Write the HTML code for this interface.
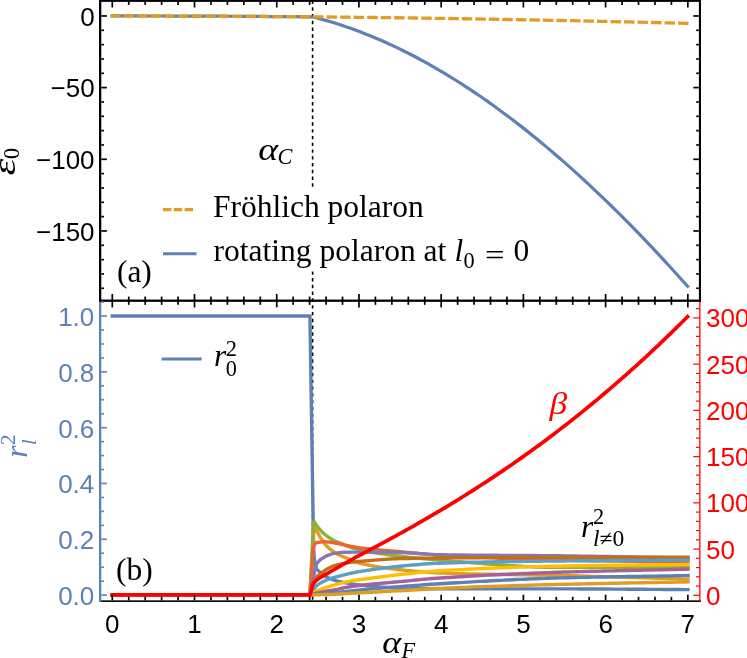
<!DOCTYPE html>
<html><head><meta charset="utf-8"><title>plot</title><style>html,body{margin:0;padding:0;background:#fff}svg{display:block;will-change:transform}</style></head><body>
<svg width="747" height="658" viewBox="0 0 747 658">
<rect width="747" height="658" fill="#fff"/>
<line x1="312.6" y1="0.5" x2="312.6" y2="299.6" stroke="#000" stroke-width="1.6" stroke-dasharray="3.4 3.37"/>
<line x1="312.6" y1="298.43" x2="312.6" y2="600.3" stroke="#000" stroke-width="1.6" stroke-dasharray="3.4 3.37"/>
<rect x="155" y="188" width="385" height="83.5" fill="#fff"/>
<path d="M112.30,15.96 L120.65,15.96 L128.99,15.97 L137.34,15.97 L145.68,15.99 L154.03,16.00 L162.38,16.02 L170.72,16.04 L179.07,16.06 L187.41,16.09 L195.76,16.12 L204.10,16.15 L212.45,16.19 L220.80,16.22 L229.14,16.27 L237.49,16.31 L245.83,16.36 L254.18,16.41 L262.53,16.47 L270.87,16.53 L279.22,16.59 L287.56,16.65 L295.91,16.72 L304.25,16.79 L312.60,16.86 L317.35,18.07 L322.09,19.35 L326.84,20.69 L331.59,22.09 L336.33,23.55 L341.08,25.08 L345.83,26.67 L350.57,28.32 L355.32,30.03 L360.07,31.81 L364.82,33.64 L369.56,35.54 L374.31,37.49 L379.06,39.51 L383.80,41.59 L388.55,43.72 L393.30,45.92 L398.04,48.17 L402.79,50.49 L407.54,52.86 L412.28,55.29 L417.03,57.78 L421.78,60.32 L426.52,62.93 L431.27,65.59 L436.02,68.31 L440.76,71.08 L445.51,73.91 L450.26,76.80 L455.01,79.74 L459.75,82.74 L464.50,85.79 L469.25,88.90 L473.99,92.06 L478.74,95.28 L483.49,98.55 L488.23,101.87 L492.98,105.25 L497.73,108.68 L502.47,112.17 L507.22,115.70 L511.97,119.29 L516.71,122.94 L521.46,126.63 L526.21,130.37 L530.95,134.17 L535.70,138.02 L540.45,141.91 L545.19,145.86 L549.94,149.86 L554.69,153.91 L559.44,158.01 L564.18,162.15 L568.93,166.35 L573.68,170.60 L578.42,174.89 L583.17,179.23 L587.92,183.62 L592.66,188.06 L597.41,192.54 L602.16,197.07 L606.90,201.65 L611.65,206.27 L616.40,210.94 L621.14,215.66 L625.89,220.42 L630.64,225.23 L635.38,230.08 L640.13,234.98 L644.88,239.92 L649.63,244.91 L654.37,249.94 L659.12,255.01 L663.87,260.13 L668.61,265.29 L673.36,270.49 L678.11,275.74 L682.85,281.03 L687.60,286.36" fill="none" stroke="#5E81B5" stroke-width="3.2" stroke-linecap="square" stroke-linejoin="round"/>
<path d="M110.30,15.96 L112.30,15.96 L122.05,15.96 L131.81,15.97 L141.56,15.98 L151.32,15.99 L161.07,16.01 L170.83,16.04 L180.58,16.06 L190.34,16.10 L200.09,16.13 L209.85,16.17 L219.60,16.22 L229.36,16.27 L239.11,16.32 L248.87,16.38 L258.62,16.44 L268.38,16.51 L278.13,16.58 L287.89,16.65 L297.64,16.73 L307.40,16.82 L317.15,16.90 L326.91,17.00 L336.66,17.09 L346.42,17.19 L356.17,17.30 L365.93,17.41 L375.68,17.52 L385.44,17.64 L395.19,17.76 L404.95,17.88 L414.70,18.02 L424.46,18.15 L434.21,18.29 L443.97,18.43 L453.72,18.58 L463.48,18.73 L473.23,18.89 L482.99,19.05 L492.74,19.21 L502.50,19.38 L512.25,19.56 L522.01,19.73 L531.76,19.91 L541.52,20.10 L551.27,20.29 L561.03,20.49 L570.78,20.68 L580.54,20.89 L590.29,21.09 L600.05,21.31 L609.80,21.52 L619.56,21.74 L629.31,21.97 L639.07,22.20 L648.82,22.43 L658.58,22.67 L668.33,22.91 L678.09,23.15 L687.84,23.40 L688.90,23.45" fill="none" stroke="#E19C24" stroke-width="3.3" stroke-dasharray="10.45 3.07"/>
<path d="M112.30,316.07 L309.95,316.07 L313.45,540.00 L313.70,547.47 L313.95,554.48 L314.20,558.01 L314.45,560.26 L314.70,562.18 L314.95,563.78 L315.20,565.10 L315.45,566.15 L315.70,566.98 L315.95,567.60 L316.20,568.08 L316.45,568.51 L316.70,568.90 L316.95,569.25 L317.20,569.57 L317.45,569.86 L317.70,570.12 L317.95,570.35 L318.20,570.58 L318.45,570.78 L318.70,570.98 L318.95,571.18 L319.20,571.37 L319.45,571.57 L319.70,571.78 L319.95,572.00 L320.20,572.24 L320.45,572.47 L320.70,572.71 L320.95,572.95 L321.20,573.18 L321.45,573.42 L321.70,573.65 L321.95,573.87 L322.20,574.09 L322.45,574.31 L322.70,574.52 L322.95,574.72 L323.20,574.92 L323.45,575.11 L323.70,575.30 L323.95,575.47 L324.20,575.64 L324.45,575.79 L324.70,575.95 L324.95,576.10 L325.20,576.25 L325.45,576.39 L325.70,576.52 L325.95,576.66 L326.20,576.79 L326.45,576.92 L326.70,577.04 L326.95,577.16 L327.20,577.28 L327.45,577.40 L327.70,577.52 L327.95,577.63 L328.20,577.75 L328.45,577.86 L328.70,577.97 L328.95,578.08 L329.20,578.19 L329.45,578.30 L329.70,578.41 L329.95,578.52 L330.20,578.62 L331.20,579.04 L332.20,579.44 L333.20,579.81 L334.20,580.16 L335.20,580.49 L336.20,580.78 L337.20,581.04 L338.20,581.29 L339.20,581.52 L340.20,581.74 L341.20,581.94 L342.20,582.14 L343.20,582.34 L344.20,582.53 L345.20,582.72 L346.20,582.90 L347.20,583.08 L348.20,583.25 L349.20,583.42 L350.20,583.59 L351.20,583.75 L352.20,583.91 L353.20,584.07 L354.20,584.24 L355.20,584.40 L356.20,584.56 L357.20,584.71 L358.20,584.85 L359.20,584.98 L360.20,585.10 L361.20,585.21 L362.20,585.31 L363.20,585.42 L364.20,585.52 L365.20,585.63 L366.20,585.73 L367.20,585.83 L368.20,585.93 L369.20,586.02 L370.20,586.12 L371.20,586.21 L372.20,586.31 L373.20,586.40 L374.20,586.49 L375.20,586.58 L376.20,586.66 L377.20,586.75 L378.20,586.83 L379.20,586.91 L380.20,586.99 L381.20,587.07 L382.20,587.14 L383.20,587.22 L384.20,587.29 L385.20,587.36 L386.20,587.42 L387.20,587.49 L388.20,587.55 L389.20,587.61 L390.20,587.67 L391.20,587.72 L392.20,587.78 L393.20,587.83 L394.20,587.87 L395.20,587.92 L396.20,587.96 L397.20,588.00 L398.20,588.04 L399.20,588.07 L400.20,588.11 L404.20,588.23 L408.20,588.35 L412.20,588.46 L416.20,588.56 L420.20,588.65 L424.20,588.73 L428.20,588.79 L432.20,588.84 L436.20,588.87 L440.20,588.88 L444.20,588.88 L448.20,588.88 L452.20,588.88 L456.20,588.89 L460.20,588.89 L464.20,588.89 L468.20,588.89 L472.20,588.89 L476.20,588.89 L480.20,588.89 L484.20,588.89 L488.20,588.89 L492.20,588.89 L496.20,588.89 L500.20,588.89 L504.20,588.89 L508.20,588.89 L512.20,588.89 L516.20,588.89 L520.20,588.89 L524.20,588.89 L528.20,588.89 L532.20,588.89 L536.20,588.89 L540.20,588.90 L544.20,588.90 L548.20,588.90 L552.20,588.90 L556.20,588.90 L560.20,588.90 L564.20,588.90 L568.20,588.91 L572.20,588.92 L576.20,588.92 L580.20,588.94 L584.20,588.95 L588.20,588.97 L592.20,588.98 L596.20,589.00 L600.20,589.02 L604.20,589.04 L608.20,589.07 L612.20,589.09 L616.20,589.12 L620.20,589.14 L624.20,589.17 L628.20,589.20 L632.20,589.22 L636.20,589.25 L640.20,589.28 L644.20,589.31 L648.20,589.34 L652.20,589.37 L656.20,589.40 L660.20,589.42 L664.20,589.45 L668.20,589.48 L672.20,589.50 L676.20,589.53 L680.20,589.56 L684.20,589.58 L688.00,589.60" fill="none" stroke="#5E81B5" stroke-width="3.4" stroke-linecap="square" stroke-linejoin="miter" stroke-miterlimit="2"/>
<path d="M112.30,595.10 L309.90,595.10 L314.40,521.00 L314.65,522.39 L314.90,523.88 L315.15,525.38 L315.40,526.81 L315.65,528.07 L315.90,529.09 L316.15,529.81 L316.40,530.41 L316.65,530.94 L316.90,531.41 L317.15,531.83 L317.40,532.23 L317.65,532.63 L317.90,533.04 L318.15,533.49 L318.40,533.96 L318.65,534.43 L318.90,534.90 L319.15,535.36 L319.40,535.81 L319.65,536.25 L319.90,536.68 L320.15,537.08 L320.40,537.45 L320.65,537.81 L320.90,538.15 L321.15,538.49 L321.40,538.82 L321.65,539.16 L321.90,539.51 L322.15,539.88 L322.40,540.27 L322.65,540.68 L322.90,541.10 L323.15,541.53 L323.40,541.94 L323.65,542.34 L323.90,542.72 L324.15,543.07 L324.40,543.39 L324.65,543.71 L324.90,544.02 L325.15,544.32 L325.40,544.62 L325.65,544.90 L325.90,545.18 L326.15,545.46 L326.40,545.72 L326.65,545.98 L326.90,546.24 L327.15,546.49 L327.40,546.74 L327.65,546.98 L327.90,547.21 L328.15,547.45 L328.40,547.67 L328.65,547.90 L328.90,548.11 L329.15,548.33 L329.40,548.53 L329.65,548.74 L329.90,548.94 L330.15,549.14 L331.15,549.90 L332.15,550.64 L333.15,551.36 L334.15,552.05 L335.15,552.71 L336.15,553.33 L337.15,553.93 L338.15,554.50 L339.15,555.04 L340.15,555.52 L341.15,555.95 L342.15,556.33 L343.15,556.70 L344.15,557.08 L345.15,557.48 L346.15,557.88 L347.15,558.28 L348.15,558.68 L349.15,559.08 L350.15,559.48 L351.15,559.89 L352.15,560.28 L353.15,560.68 L354.15,561.10 L355.15,561.52 L356.15,561.93 L357.15,562.33 L358.15,562.69 L359.15,563.02 L360.15,563.29 L361.15,563.53 L362.15,563.77 L363.15,564.00 L364.15,564.23 L365.15,564.45 L366.15,564.67 L367.15,564.88 L368.15,565.08 L369.15,565.28 L370.15,565.48 L371.15,565.67 L372.15,565.86 L373.15,566.04 L374.15,566.22 L375.15,566.39 L376.15,566.56 L377.15,566.72 L378.15,566.88 L379.15,567.04 L380.15,567.19 L381.15,567.35 L382.15,567.49 L383.15,567.64 L384.15,567.78 L385.15,567.91 L386.15,568.05 L387.15,568.18 L388.15,568.31 L389.15,568.44 L390.15,568.56 L391.15,568.69 L392.15,568.81 L393.15,568.93 L394.15,569.04 L395.15,569.16 L396.15,569.27 L397.15,569.38 L398.15,569.50 L399.15,569.61 L400.15,569.72 L404.15,570.15 L408.15,570.57 L412.15,570.98 L416.15,571.36 L420.15,571.72 L424.15,572.06 L428.15,572.36 L432.15,572.62 L436.15,572.83 L440.15,573.01 L444.15,573.15 L448.15,573.28 L452.15,573.41 L456.15,573.52 L460.15,573.64 L464.15,573.74 L468.15,573.84 L472.15,573.93 L476.15,574.01 L480.15,574.09 L484.15,574.17 L488.15,574.24 L492.15,574.31 L496.15,574.38 L500.15,574.44 L504.15,574.51 L508.15,574.57 L512.15,574.63 L516.15,574.69 L520.15,574.75 L524.15,574.82 L528.15,574.88 L532.15,574.94 L536.15,575.01 L540.15,575.08 L544.15,575.16 L548.15,575.24 L552.15,575.32 L556.15,575.41 L560.15,575.50 L564.15,575.60 L568.15,575.70 L572.15,575.80 L576.15,575.91 L580.15,576.01 L584.15,576.12 L588.15,576.23 L592.15,576.34 L596.15,576.46 L600.15,576.57 L604.15,576.69 L608.15,576.80 L612.15,576.92 L616.15,577.04 L620.15,577.16 L624.15,577.28 L628.15,577.40 L632.15,577.52 L636.15,577.64 L640.15,577.76 L644.15,577.89 L648.15,578.01 L652.15,578.13 L656.15,578.25 L660.15,578.37 L664.15,578.49 L668.15,578.61 L672.15,578.73 L676.15,578.85 L680.15,578.97 L684.15,579.09 L688.00,579.20" fill="none" stroke="#E19C24" stroke-width="3.4" stroke-linecap="square" stroke-linejoin="miter" stroke-miterlimit="2"/>
<path d="M112.30,595.10 L309.90,595.10 L313.60,521.20 L313.85,521.56 L314.10,521.91 L314.35,522.27 L314.60,522.63 L314.85,522.99 L315.10,523.35 L315.35,523.70 L315.60,524.05 L315.85,524.40 L316.10,524.73 L316.35,525.07 L316.60,525.41 L316.85,525.74 L317.10,526.07 L317.35,526.40 L317.60,526.73 L317.85,527.06 L318.10,527.38 L318.35,527.70 L318.60,528.02 L318.85,528.33 L319.10,528.63 L319.35,528.93 L319.60,529.23 L319.85,529.52 L320.10,529.80 L320.35,530.08 L320.60,530.35 L320.85,530.62 L321.10,530.89 L321.35,531.16 L321.60,531.42 L321.85,531.68 L322.10,531.93 L322.35,532.18 L322.60,532.43 L322.85,532.67 L323.10,532.90 L323.35,533.13 L323.60,533.36 L323.85,533.58 L324.10,533.80 L324.35,534.01 L324.60,534.22 L324.85,534.42 L325.10,534.62 L325.35,534.82 L325.60,535.01 L325.85,535.19 L326.10,535.38 L326.35,535.56 L326.60,535.74 L326.85,535.92 L327.10,536.10 L327.35,536.28 L327.60,536.45 L327.85,536.63 L328.10,536.80 L328.35,536.97 L328.60,537.15 L328.85,537.32 L329.10,537.49 L329.35,537.66 L329.60,537.83 L329.85,538.00 L330.10,538.17 L331.10,538.81 L332.10,539.40 L333.10,539.95 L334.10,540.46 L335.10,540.94 L336.10,541.40 L337.10,541.82 L338.10,542.21 L339.10,542.60 L340.10,543.00 L341.10,543.43 L342.10,543.88 L343.10,544.32 L344.10,544.76 L345.10,545.17 L346.10,545.58 L347.10,545.98 L348.10,546.36 L349.10,546.73 L350.10,547.09 L351.10,547.44 L352.10,547.77 L353.10,548.08 L354.10,548.39 L355.10,548.68 L356.10,548.97 L357.10,549.26 L358.10,549.56 L359.10,549.84 L360.10,550.08 L361.10,550.29 L362.10,550.50 L363.10,550.70 L364.10,550.90 L365.10,551.10 L366.10,551.29 L367.10,551.47 L368.10,551.66 L369.10,551.84 L370.10,552.01 L371.10,552.19 L372.10,552.36 L373.10,552.53 L374.10,552.69 L375.10,552.85 L376.10,553.01 L377.10,553.16 L378.10,553.32 L379.10,553.47 L380.10,553.61 L381.10,553.76 L382.10,553.90 L383.10,554.04 L384.10,554.18 L385.10,554.32 L386.10,554.46 L387.10,554.59 L388.10,554.72 L389.10,554.85 L390.10,554.98 L391.10,555.11 L392.10,555.23 L393.10,555.36 L394.10,555.48 L395.10,555.61 L396.10,555.73 L397.10,555.85 L398.10,555.97 L399.10,556.09 L400.10,556.21 L404.10,556.68 L408.10,557.14 L412.10,557.57 L416.10,557.99 L420.10,558.39 L424.10,558.77 L428.10,559.14 L432.10,559.49 L436.10,559.83 L440.10,560.15 L444.10,560.46 L448.10,560.78 L452.10,561.11 L456.10,561.44 L460.10,561.77 L464.10,562.10 L468.10,562.43 L472.10,562.77 L476.10,563.09 L480.10,563.42 L484.10,563.74 L488.10,564.05 L492.10,564.36 L496.10,564.66 L500.10,564.95 L504.10,565.23 L508.10,565.50 L512.10,565.75 L516.10,565.99 L520.10,566.22 L524.10,566.43 L528.10,566.62 L532.10,566.79 L536.10,566.95 L540.10,567.08 L544.10,567.19 L548.10,567.28 L552.10,567.35 L556.10,567.39 L560.10,567.40 L564.10,567.40 L568.10,567.40 L572.10,567.40 L576.10,567.40 L580.10,567.40 L584.10,567.40 L588.10,567.40 L592.10,567.40 L596.10,567.40 L600.10,567.40 L604.10,567.40 L608.10,567.40 L612.10,567.40 L616.10,567.40 L620.10,567.40 L624.10,567.40 L628.10,567.40 L632.10,567.40 L636.10,567.40 L640.10,567.40 L644.10,567.40 L648.10,567.40 L652.10,567.40 L656.10,567.40 L660.10,567.40 L664.10,567.40 L668.10,567.40 L672.10,567.40 L676.10,567.40 L680.10,567.40 L684.10,567.40 L688.00,567.40" fill="none" stroke="#8FB032" stroke-width="3.4" stroke-linecap="square" stroke-linejoin="miter" stroke-miterlimit="2"/>
<path d="M112.30,595.10 L309.90,595.10 L313.40,548.00 L313.65,547.16 L313.90,546.26 L314.15,545.40 L314.40,544.69 L314.65,544.23 L314.90,543.90 L315.15,543.61 L315.40,543.38 L315.65,543.19 L315.90,543.04 L316.15,542.94 L316.40,542.85 L316.65,542.76 L316.90,542.68 L317.15,542.61 L317.40,542.54 L317.65,542.48 L317.90,542.43 L318.15,542.37 L318.40,542.33 L318.65,542.28 L318.90,542.24 L319.15,542.21 L319.40,542.17 L319.65,542.14 L319.90,542.11 L320.15,542.08 L320.40,542.06 L320.65,542.03 L320.90,542.00 L321.15,541.98 L321.40,541.95 L321.65,541.93 L321.90,541.91 L322.15,541.89 L322.40,541.87 L322.65,541.85 L322.90,541.83 L323.15,541.82 L323.40,541.81 L323.65,541.81 L323.90,541.80 L324.15,541.80 L324.40,541.80 L324.65,541.81 L324.90,541.81 L325.15,541.82 L325.40,541.83 L325.65,541.84 L325.90,541.85 L326.15,541.87 L326.40,541.88 L326.65,541.90 L326.90,541.92 L327.15,541.93 L327.40,541.95 L327.65,541.97 L327.90,541.99 L328.15,542.00 L328.40,542.02 L328.65,542.04 L328.90,542.07 L329.15,542.09 L329.40,542.12 L329.65,542.15 L329.90,542.18 L330.15,542.21 L331.15,542.35 L332.15,542.50 L333.15,542.67 L334.15,542.85 L335.15,543.03 L336.15,543.21 L337.15,543.39 L338.15,543.60 L339.15,543.81 L340.15,544.03 L341.15,544.25 L342.15,544.48 L343.15,544.70 L344.15,544.91 L345.15,545.12 L346.15,545.33 L347.15,545.54 L348.15,545.74 L349.15,545.95 L350.15,546.15 L351.15,546.34 L352.15,546.53 L353.15,546.71 L354.15,546.90 L355.15,547.07 L356.15,547.25 L357.15,547.42 L358.15,547.58 L359.15,547.73 L360.15,547.86 L361.15,547.99 L362.15,548.12 L363.15,548.24 L364.15,548.36 L365.15,548.48 L366.15,548.59 L367.15,548.70 L368.15,548.81 L369.15,548.92 L370.15,549.02 L371.15,549.13 L372.15,549.23 L373.15,549.33 L374.15,549.42 L375.15,549.52 L376.15,549.61 L377.15,549.71 L378.15,549.80 L379.15,549.89 L380.15,549.98 L381.15,550.07 L382.15,550.15 L383.15,550.24 L384.15,550.33 L385.15,550.41 L386.15,550.50 L387.15,550.58 L388.15,550.67 L389.15,550.75 L390.15,550.84 L391.15,550.92 L392.15,551.01 L393.15,551.09 L394.15,551.18 L395.15,551.27 L396.15,551.36 L397.15,551.44 L398.15,551.53 L399.15,551.62 L400.15,551.71 L404.15,552.09 L408.15,552.47 L412.15,552.86 L416.15,553.25 L420.15,553.63 L424.15,553.99 L428.15,554.34 L432.15,554.66 L436.15,554.95 L440.15,555.21 L444.15,555.44 L448.15,555.67 L452.15,555.90 L456.15,556.12 L460.15,556.33 L464.15,556.54 L468.15,556.75 L472.15,556.94 L476.15,557.14 L480.15,557.33 L484.15,557.51 L488.15,557.69 L492.15,557.87 L496.15,558.04 L500.15,558.20 L504.15,558.36 L508.15,558.52 L512.15,558.67 L516.15,558.82 L520.15,558.96 L524.15,559.09 L528.15,559.23 L532.15,559.35 L536.15,559.47 L540.15,559.59 L544.15,559.70 L548.15,559.81 L552.15,559.91 L556.15,560.01 L560.15,560.10 L564.15,560.19 L568.15,560.28 L572.15,560.36 L576.15,560.44 L580.15,560.52 L584.15,560.59 L588.15,560.66 L592.15,560.73 L596.15,560.80 L600.15,560.86 L604.15,560.92 L608.15,560.99 L612.15,561.04 L616.15,561.10 L620.15,561.16 L624.15,561.22 L628.15,561.27 L632.15,561.32 L636.15,561.38 L640.15,561.43 L644.15,561.48 L648.15,561.54 L652.15,561.59 L656.15,561.64 L660.15,561.70 L664.15,561.75 L668.15,561.81 L672.15,561.86 L676.15,561.92 L680.15,561.98 L684.15,562.04 L688.00,562.10" fill="none" stroke="#EB6235" stroke-width="3.4" stroke-linecap="square" stroke-linejoin="miter" stroke-miterlimit="2"/>
<path d="M112.30,595.10 L309.90,595.10 L313.40,580.00 L313.65,577.88 L313.90,575.69 L314.15,573.65 L314.40,572.00 L314.65,570.68 L314.90,569.46 L315.15,568.36 L315.40,567.38 L315.65,566.53 L315.90,565.80 L316.15,565.20 L316.40,564.65 L316.65,564.14 L316.90,563.67 L317.15,563.24 L317.40,562.85 L317.65,562.49 L317.90,562.15 L318.15,561.84 L318.40,561.56 L318.65,561.29 L318.90,561.04 L319.15,560.79 L319.40,560.56 L319.65,560.33 L319.90,560.12 L320.15,559.91 L320.40,559.71 L320.65,559.52 L320.90,559.34 L321.15,559.16 L321.40,558.98 L321.65,558.82 L321.90,558.65 L322.15,558.49 L322.40,558.34 L322.65,558.18 L322.90,558.03 L323.15,557.88 L323.40,557.73 L323.65,557.58 L323.90,557.43 L324.15,557.28 L324.40,557.13 L324.65,556.98 L324.90,556.83 L325.15,556.69 L325.40,556.54 L325.65,556.40 L325.90,556.26 L326.15,556.13 L326.40,556.00 L326.65,555.87 L326.90,555.75 L327.15,555.63 L327.40,555.52 L327.65,555.42 L327.90,555.32 L328.15,555.22 L328.40,555.13 L328.65,555.04 L328.90,554.95 L329.15,554.87 L329.40,554.78 L329.65,554.70 L329.90,554.61 L330.15,554.53 L331.15,554.22 L332.15,553.93 L333.15,553.68 L334.15,553.45 L335.15,553.25 L336.15,553.09 L337.15,552.95 L338.15,552.82 L339.15,552.70 L340.15,552.59 L341.15,552.50 L342.15,552.42 L343.15,552.35 L344.15,552.31 L345.15,552.28 L346.15,552.26 L347.15,552.23 L348.15,552.21 L349.15,552.20 L350.15,552.18 L351.15,552.17 L352.15,552.16 L353.15,552.15 L354.15,552.15 L355.15,552.14 L356.15,552.13 L357.15,552.13 L358.15,552.12 L359.15,552.12 L360.15,552.12 L361.15,552.12 L362.15,552.12 L363.15,552.12 L364.15,552.12 L365.15,552.13 L366.15,552.13 L367.15,552.13 L368.15,552.14 L369.15,552.14 L370.15,552.15 L371.15,552.15 L372.15,552.16 L373.15,552.17 L374.15,552.18 L375.15,552.18 L376.15,552.19 L377.15,552.20 L378.15,552.21 L379.15,552.22 L380.15,552.23 L381.15,552.24 L382.15,552.25 L383.15,552.26 L384.15,552.27 L385.15,552.29 L386.15,552.30 L387.15,552.31 L388.15,552.32 L389.15,552.34 L390.15,552.35 L391.15,552.36 L392.15,552.38 L393.15,552.39 L394.15,552.41 L395.15,552.42 L396.15,552.44 L397.15,552.45 L398.15,552.47 L399.15,552.49 L400.15,552.50 L404.15,552.61 L408.15,552.80 L412.15,553.04 L416.15,553.31 L420.15,553.60 L424.15,553.90 L428.15,554.17 L432.15,554.41 L436.15,554.59 L440.15,554.70 L444.15,554.77 L448.15,554.83 L452.15,554.89 L456.15,554.95 L460.15,555.00 L464.15,555.04 L468.15,555.09 L472.15,555.13 L476.15,555.16 L480.15,555.20 L484.15,555.23 L488.15,555.26 L492.15,555.29 L496.15,555.31 L500.15,555.34 L504.15,555.36 L508.15,555.39 L512.15,555.41 L516.15,555.43 L520.15,555.46 L524.15,555.48 L528.15,555.51 L532.15,555.54 L536.15,555.57 L540.15,555.60 L544.15,555.64 L548.15,555.67 L552.15,555.71 L556.15,555.76 L560.15,555.80 L564.15,555.85 L568.15,555.90 L572.15,555.96 L576.15,556.02 L580.15,556.08 L584.15,556.14 L588.15,556.21 L592.15,556.27 L596.15,556.34 L600.15,556.41 L604.15,556.48 L608.15,556.56 L612.15,556.63 L616.15,556.71 L620.15,556.78 L624.15,556.86 L628.15,556.94 L632.15,557.02 L636.15,557.09 L640.15,557.17 L644.15,557.25 L648.15,557.33 L652.15,557.41 L656.15,557.49 L660.15,557.57 L664.15,557.65 L668.15,557.73 L672.15,557.81 L676.15,557.88 L680.15,557.96 L684.15,558.03 L688.00,558.10" fill="none" stroke="#8778B3" stroke-width="3.4" stroke-linecap="square" stroke-linejoin="miter" stroke-miterlimit="2"/>
<path d="M112.30,595.10 L309.90,595.10 L313.40,586.50 L313.65,585.60 L313.90,584.64 L314.15,583.63 L314.40,582.61 L314.65,581.61 L314.90,580.65 L315.15,579.75 L315.40,578.96 L315.65,578.28 L315.90,577.76 L316.15,577.39 L316.40,577.06 L316.65,576.76 L316.90,576.48 L317.15,576.23 L317.40,576.00 L317.65,575.79 L317.90,575.59 L318.15,575.40 L318.40,575.22 L318.65,575.05 L318.90,574.88 L319.15,574.71 L319.40,574.54 L319.65,574.36 L319.90,574.18 L320.15,573.98 L320.40,573.78 L320.65,573.58 L320.90,573.39 L321.15,573.19 L321.40,573.00 L321.65,572.81 L321.90,572.63 L322.15,572.44 L322.40,572.25 L322.65,572.07 L322.90,571.89 L323.15,571.71 L323.40,571.53 L323.65,571.36 L323.90,571.18 L324.15,571.01 L324.40,570.83 L324.65,570.65 L324.90,570.48 L325.15,570.30 L325.40,570.13 L325.65,569.95 L325.90,569.78 L326.15,569.61 L326.40,569.44 L326.65,569.28 L326.90,569.12 L327.15,568.96 L327.40,568.82 L327.65,568.67 L327.90,568.53 L328.15,568.40 L328.40,568.28 L328.65,568.15 L328.90,568.03 L329.15,567.91 L329.40,567.79 L329.65,567.67 L329.90,567.55 L330.15,567.44 L331.15,566.99 L332.15,566.58 L333.15,566.19 L334.15,565.83 L335.15,565.50 L336.15,565.20 L337.15,564.92 L338.15,564.66 L339.15,564.42 L340.15,564.19 L341.15,563.98 L342.15,563.78 L343.15,563.58 L344.15,563.40 L345.15,563.22 L346.15,563.05 L347.15,562.88 L348.15,562.73 L349.15,562.58 L350.15,562.43 L351.15,562.30 L352.15,562.18 L353.15,562.06 L354.15,561.95 L355.15,561.84 L356.15,561.74 L357.15,561.65 L358.15,561.56 L359.15,561.47 L360.15,561.38 L361.15,561.30 L362.15,561.21 L363.15,561.13 L364.15,561.04 L365.15,560.95 L366.15,560.87 L367.15,560.78 L368.15,560.69 L369.15,560.61 L370.15,560.52 L371.15,560.43 L372.15,560.35 L373.15,560.26 L374.15,560.18 L375.15,560.10 L376.15,560.01 L377.15,559.93 L378.15,559.85 L379.15,559.77 L380.15,559.70 L381.15,559.62 L382.15,559.55 L383.15,559.47 L384.15,559.40 L385.15,559.34 L386.15,559.27 L387.15,559.20 L388.15,559.14 L389.15,559.08 L390.15,559.03 L391.15,558.97 L392.15,558.92 L393.15,558.87 L394.15,558.82 L395.15,558.78 L396.15,558.74 L397.15,558.70 L398.15,558.67 L399.15,558.64 L400.15,558.62 L404.15,558.52 L408.15,558.44 L412.15,558.37 L416.15,558.30 L420.15,558.24 L424.15,558.19 L428.15,558.14 L432.15,558.10 L436.15,558.06 L440.15,558.02 L444.15,557.98 L448.15,557.95 L452.15,557.91 L456.15,557.88 L460.15,557.84 L464.15,557.81 L468.15,557.77 L472.15,557.74 L476.15,557.71 L480.15,557.68 L484.15,557.65 L488.15,557.62 L492.15,557.59 L496.15,557.56 L500.15,557.54 L504.15,557.51 L508.15,557.49 L512.15,557.47 L516.15,557.45 L520.15,557.43 L524.15,557.41 L528.15,557.39 L532.15,557.38 L536.15,557.36 L540.15,557.35 L544.15,557.34 L548.15,557.33 L552.15,557.33 L556.15,557.32 L560.15,557.32 L564.15,557.32 L568.15,557.32 L572.15,557.32 L576.15,557.32 L580.15,557.31 L584.15,557.31 L588.15,557.31 L592.15,557.31 L596.15,557.31 L600.15,557.31 L604.15,557.31 L608.15,557.31 L612.15,557.31 L616.15,557.31 L620.15,557.31 L624.15,557.31 L628.15,557.31 L632.15,557.31 L636.15,557.31 L640.15,557.31 L644.15,557.31 L648.15,557.30 L652.15,557.30 L656.15,557.30 L660.15,557.30 L664.15,557.30 L668.15,557.30 L672.15,557.30 L676.15,557.30 L680.15,557.30 L684.15,557.30 L688.00,557.30" fill="none" stroke="#C56E1A" stroke-width="3.4" stroke-linecap="square" stroke-linejoin="miter" stroke-miterlimit="2"/>
<path d="M112.30,595.10 L309.90,595.10 L313.40,590.00 L313.65,589.65 L313.90,589.28 L314.15,588.90 L314.40,588.53 L314.65,588.15 L314.90,587.79 L315.15,587.43 L315.40,587.10 L315.65,586.79 L315.90,586.50 L316.15,586.25 L316.40,586.01 L316.65,585.78 L316.90,585.55 L317.15,585.34 L317.40,585.13 L317.65,584.93 L317.90,584.74 L318.15,584.55 L318.40,584.37 L318.65,584.20 L318.90,584.02 L319.15,583.86 L319.40,583.69 L319.65,583.53 L319.90,583.38 L320.15,583.22 L320.40,583.07 L320.65,582.92 L320.90,582.78 L321.15,582.64 L321.40,582.50 L321.65,582.37 L321.90,582.24 L322.15,582.11 L322.40,581.99 L322.65,581.86 L322.90,581.74 L323.15,581.62 L323.40,581.50 L323.65,581.37 L323.90,581.25 L324.15,581.12 L324.40,581.00 L324.65,580.87 L324.90,580.74 L325.15,580.61 L325.40,580.48 L325.65,580.35 L325.90,580.22 L326.15,580.10 L326.40,579.97 L326.65,579.85 L326.90,579.73 L327.15,579.62 L327.40,579.51 L327.65,579.40 L327.90,579.30 L328.15,579.21 L328.40,579.12 L328.65,579.04 L328.90,578.95 L329.15,578.87 L329.40,578.79 L329.65,578.71 L329.90,578.64 L330.15,578.56 L331.15,578.28 L332.15,578.01 L333.15,577.76 L334.15,577.51 L335.15,577.25 L336.15,576.99 L337.15,576.71 L338.15,576.43 L339.15,576.15 L340.15,575.87 L341.15,575.60 L342.15,575.33 L343.15,575.06 L344.15,574.81 L345.15,574.57 L346.15,574.33 L347.15,574.10 L348.15,573.87 L349.15,573.65 L350.15,573.43 L351.15,573.22 L352.15,573.01 L353.15,572.81 L354.15,572.61 L355.15,572.41 L356.15,572.22 L357.15,572.03 L358.15,571.85 L359.15,571.67 L360.15,571.51 L361.15,571.35 L362.15,571.19 L363.15,571.03 L364.15,570.87 L365.15,570.71 L366.15,570.56 L367.15,570.40 L368.15,570.25 L369.15,570.10 L370.15,569.95 L371.15,569.80 L372.15,569.65 L373.15,569.50 L374.15,569.36 L375.15,569.21 L376.15,569.07 L377.15,568.93 L378.15,568.79 L379.15,568.65 L380.15,568.52 L381.15,568.38 L382.15,568.25 L383.15,568.12 L384.15,567.99 L385.15,567.86 L386.15,567.74 L387.15,567.61 L388.15,567.49 L389.15,567.37 L390.15,567.25 L391.15,567.14 L392.15,567.02 L393.15,566.91 L394.15,566.80 L395.15,566.69 L396.15,566.59 L397.15,566.48 L398.15,566.38 L399.15,566.28 L400.15,566.19 L404.15,565.80 L408.15,565.42 L412.15,565.05 L416.15,564.69 L420.15,564.36 L424.15,564.05 L428.15,563.77 L432.15,563.53 L436.15,563.33 L440.15,563.18 L444.15,563.05 L448.15,562.93 L452.15,562.81 L456.15,562.70 L460.15,562.59 L464.15,562.49 L468.15,562.39 L472.15,562.30 L476.15,562.21 L480.15,562.12 L484.15,562.04 L488.15,561.96 L492.15,561.89 L496.15,561.82 L500.15,561.75 L504.15,561.69 L508.15,561.62 L512.15,561.57 L516.15,561.51 L520.15,561.45 L524.15,561.40 L528.15,561.35 L532.15,561.30 L536.15,561.26 L540.15,561.21 L544.15,561.17 L548.15,561.12 L552.15,561.08 L556.15,561.04 L560.15,561.00 L564.15,560.96 L568.15,560.92 L572.15,560.88 L576.15,560.85 L580.15,560.81 L584.15,560.78 L588.15,560.75 L592.15,560.72 L596.15,560.69 L600.15,560.66 L604.15,560.63 L608.15,560.60 L612.15,560.58 L616.15,560.55 L620.15,560.52 L624.15,560.50 L628.15,560.47 L632.15,560.45 L636.15,560.43 L640.15,560.40 L644.15,560.38 L648.15,560.35 L652.15,560.33 L656.15,560.31 L660.15,560.28 L664.15,560.26 L668.15,560.23 L672.15,560.21 L676.15,560.18 L680.15,560.15 L684.15,560.13 L688.00,560.10" fill="none" stroke="#5D9EC7" stroke-width="3.4" stroke-linecap="square" stroke-linejoin="miter" stroke-miterlimit="2"/>
<path d="M112.30,595.10 L309.90,595.10 L313.40,592.60 L313.65,592.46 L313.90,592.32 L314.15,592.18 L314.40,592.04 L314.65,591.90 L314.90,591.76 L315.15,591.63 L315.40,591.49 L315.65,591.37 L315.90,591.25 L316.15,591.13 L316.40,591.02 L316.65,590.92 L316.90,590.81 L317.15,590.71 L317.40,590.61 L317.65,590.52 L317.90,590.42 L318.15,590.33 L318.40,590.24 L318.65,590.14 L318.90,590.05 L319.15,589.96 L319.40,589.87 L319.65,589.78 L319.90,589.69 L320.15,589.60 L320.40,589.51 L320.65,589.42 L320.90,589.33 L321.15,589.24 L321.40,589.14 L321.65,589.05 L321.90,588.96 L322.15,588.87 L322.40,588.78 L322.65,588.69 L322.90,588.60 L323.15,588.52 L323.40,588.43 L323.65,588.34 L323.90,588.25 L324.15,588.16 L324.40,588.08 L324.65,587.99 L324.90,587.90 L325.15,587.82 L325.40,587.73 L325.65,587.65 L325.90,587.56 L326.15,587.48 L326.40,587.39 L326.65,587.31 L326.90,587.23 L327.15,587.15 L327.40,587.06 L327.65,586.98 L327.90,586.90 L328.15,586.82 L328.40,586.75 L328.65,586.67 L328.90,586.59 L329.15,586.51 L329.40,586.43 L329.65,586.36 L329.90,586.28 L330.15,586.20 L331.15,585.90 L332.15,585.61 L333.15,585.32 L334.15,585.04 L335.15,584.76 L336.15,584.49 L337.15,584.21 L338.15,583.94 L339.15,583.68 L340.15,583.42 L341.15,583.16 L342.15,582.91 L343.15,582.67 L344.15,582.43 L345.15,582.20 L346.15,581.97 L347.15,581.75 L348.15,581.53 L349.15,581.32 L350.15,581.11 L351.15,580.92 L352.15,580.75 L353.15,580.59 L354.15,580.44 L355.15,580.29 L356.15,580.16 L357.15,580.03 L358.15,579.90 L359.15,579.77 L360.15,579.64 L361.15,579.50 L362.15,579.37 L363.15,579.24 L364.15,579.10 L365.15,578.97 L366.15,578.83 L367.15,578.70 L368.15,578.57 L369.15,578.43 L370.15,578.30 L371.15,578.17 L372.15,578.03 L373.15,577.90 L374.15,577.77 L375.15,577.64 L376.15,577.51 L377.15,577.37 L378.15,577.24 L379.15,577.11 L380.15,576.98 L381.15,576.86 L382.15,576.73 L383.15,576.60 L384.15,576.47 L385.15,576.35 L386.15,576.22 L387.15,576.10 L388.15,575.98 L389.15,575.85 L390.15,575.73 L391.15,575.61 L392.15,575.49 L393.15,575.38 L394.15,575.26 L395.15,575.14 L396.15,575.03 L397.15,574.92 L398.15,574.80 L399.15,574.69 L400.15,574.58 L404.15,574.15 L408.15,573.71 L412.15,573.27 L416.15,572.84 L420.15,572.43 L424.15,572.04 L428.15,571.67 L432.15,571.33 L436.15,571.03 L440.15,570.77 L444.15,570.54 L448.15,570.31 L452.15,570.08 L456.15,569.86 L460.15,569.65 L464.15,569.44 L468.15,569.24 L472.15,569.05 L476.15,568.86 L480.15,568.67 L484.15,568.49 L488.15,568.32 L492.15,568.15 L496.15,567.98 L500.15,567.83 L504.15,567.67 L508.15,567.53 L512.15,567.39 L516.15,567.25 L520.15,567.12 L524.15,566.99 L528.15,566.87 L532.15,566.76 L536.15,566.65 L540.15,566.54 L544.15,566.44 L548.15,566.35 L552.15,566.26 L556.15,566.18 L560.15,566.10 L564.15,566.02 L568.15,565.95 L572.15,565.88 L576.15,565.82 L580.15,565.75 L584.15,565.69 L588.15,565.64 L592.15,565.58 L596.15,565.53 L600.15,565.47 L604.15,565.42 L608.15,565.38 L612.15,565.33 L616.15,565.28 L620.15,565.24 L624.15,565.19 L628.15,565.15 L632.15,565.11 L636.15,565.07 L640.15,565.02 L644.15,564.98 L648.15,564.94 L652.15,564.90 L656.15,564.86 L660.15,564.82 L664.15,564.77 L668.15,564.73 L672.15,564.69 L676.15,564.64 L680.15,564.60 L684.15,564.55 L688.00,564.50" fill="none" stroke="#FFBF00" stroke-width="3.4" stroke-linecap="square" stroke-linejoin="miter" stroke-miterlimit="2"/>
<path d="M112.30,595.10 L309.90,595.10 L313.40,594.00 L313.65,593.92 L313.90,593.84 L314.15,593.76 L314.40,593.68 L314.65,593.60 L314.90,593.52 L315.15,593.44 L315.40,593.36 L315.65,593.29 L315.90,593.23 L316.15,593.16 L316.40,593.10 L316.65,593.04 L316.90,592.98 L317.15,592.93 L317.40,592.87 L317.65,592.82 L317.90,592.76 L318.15,592.71 L318.40,592.65 L318.65,592.60 L318.90,592.55 L319.15,592.50 L319.40,592.45 L319.65,592.40 L319.90,592.35 L320.15,592.30 L320.40,592.25 L320.65,592.21 L320.90,592.16 L321.15,592.11 L321.40,592.07 L321.65,592.02 L321.90,591.98 L322.15,591.93 L322.40,591.89 L322.65,591.85 L322.90,591.80 L323.15,591.76 L323.40,591.72 L323.65,591.67 L323.90,591.63 L324.15,591.59 L324.40,591.55 L324.65,591.51 L324.90,591.46 L325.15,591.42 L325.40,591.38 L325.65,591.34 L325.90,591.30 L326.15,591.25 L326.40,591.21 L326.65,591.17 L326.90,591.13 L327.15,591.08 L327.40,591.04 L327.65,591.00 L327.90,590.95 L328.15,590.91 L328.40,590.87 L328.65,590.83 L328.90,590.78 L329.15,590.74 L329.40,590.70 L329.65,590.66 L329.90,590.62 L330.15,590.58 L331.15,590.42 L332.15,590.27 L333.15,590.11 L334.15,589.95 L335.15,589.77 L336.15,589.59 L337.15,589.39 L338.15,589.17 L339.15,588.94 L340.15,588.71 L341.15,588.47 L342.15,588.24 L343.15,588.02 L344.15,587.81 L345.15,587.62 L346.15,587.43 L347.15,587.24 L348.15,587.06 L349.15,586.88 L350.15,586.72 L351.15,586.56 L352.15,586.41 L353.15,586.26 L354.15,586.13 L355.15,586.00 L356.15,585.87 L357.15,585.75 L358.15,585.63 L359.15,585.52 L360.15,585.41 L361.15,585.29 L362.15,585.19 L363.15,585.08 L364.15,584.97 L365.15,584.86 L366.15,584.76 L367.15,584.66 L368.15,584.56 L369.15,584.45 L370.15,584.36 L371.15,584.26 L372.15,584.16 L373.15,584.06 L374.15,583.97 L375.15,583.87 L376.15,583.78 L377.15,583.68 L378.15,583.59 L379.15,583.49 L380.15,583.40 L381.15,583.31 L382.15,583.22 L383.15,583.13 L384.15,583.04 L385.15,582.95 L386.15,582.86 L387.15,582.77 L388.15,582.68 L389.15,582.59 L390.15,582.50 L391.15,582.41 L392.15,582.32 L393.15,582.23 L394.15,582.14 L395.15,582.05 L396.15,581.95 L397.15,581.86 L398.15,581.77 L399.15,581.68 L400.15,581.59 L404.15,581.21 L408.15,580.82 L412.15,580.42 L416.15,580.03 L420.15,579.64 L424.15,579.27 L428.15,578.90 L432.15,578.56 L436.15,578.25 L440.15,577.97 L444.15,577.71 L448.15,577.45 L452.15,577.20 L456.15,576.95 L460.15,576.71 L464.15,576.47 L468.15,576.24 L472.15,576.02 L476.15,575.79 L480.15,575.58 L484.15,575.37 L488.15,575.16 L492.15,574.96 L496.15,574.76 L500.15,574.56 L504.15,574.38 L508.15,574.19 L512.15,574.01 L516.15,573.84 L520.15,573.67 L524.15,573.50 L528.15,573.34 L532.15,573.18 L536.15,573.03 L540.15,572.88 L544.15,572.73 L548.15,572.59 L552.15,572.46 L556.15,572.32 L560.15,572.20 L564.15,572.07 L568.15,571.95 L572.15,571.83 L576.15,571.72 L580.15,571.61 L584.15,571.50 L588.15,571.40 L592.15,571.30 L596.15,571.20 L600.15,571.10 L604.15,571.01 L608.15,570.92 L612.15,570.83 L616.15,570.74 L620.15,570.65 L624.15,570.57 L628.15,570.48 L632.15,570.40 L636.15,570.31 L640.15,570.23 L644.15,570.15 L648.15,570.06 L652.15,569.98 L656.15,569.90 L660.15,569.81 L664.15,569.73 L668.15,569.64 L672.15,569.56 L676.15,569.47 L680.15,569.38 L684.15,569.29 L688.00,569.20" fill="none" stroke="#A5609D" stroke-width="3.4" stroke-linecap="square" stroke-linejoin="miter" stroke-miterlimit="2"/>
<path d="M112.30,595.10 L309.90,595.10 L313.40,594.60 L313.65,594.57 L313.90,594.54 L314.15,594.51 L314.40,594.47 L314.65,594.44 L314.90,594.41 L315.15,594.38 L315.40,594.34 L315.65,594.31 L315.90,594.28 L316.15,594.24 L316.40,594.21 L316.65,594.18 L316.90,594.15 L317.15,594.11 L317.40,594.08 L317.65,594.05 L317.90,594.02 L318.15,593.99 L318.40,593.96 L318.65,593.93 L318.90,593.90 L319.15,593.87 L319.40,593.84 L319.65,593.82 L319.90,593.79 L320.15,593.77 L320.40,593.74 L320.65,593.72 L320.90,593.69 L321.15,593.67 L321.40,593.65 L321.65,593.62 L321.90,593.60 L322.15,593.58 L322.40,593.56 L322.65,593.53 L322.90,593.51 L323.15,593.49 L323.40,593.47 L323.65,593.45 L323.90,593.43 L324.15,593.41 L324.40,593.39 L324.65,593.37 L324.90,593.35 L325.15,593.33 L325.40,593.31 L325.65,593.30 L325.90,593.28 L326.15,593.26 L326.40,593.24 L326.65,593.22 L326.90,593.20 L327.15,593.19 L327.40,593.17 L327.65,593.15 L327.90,593.13 L328.15,593.11 L328.40,593.10 L328.65,593.08 L328.90,593.06 L329.15,593.04 L329.40,593.02 L329.65,593.01 L329.90,592.99 L330.15,592.97 L331.15,592.90 L332.15,592.82 L333.15,592.75 L334.15,592.67 L335.15,592.58 L336.15,592.50 L337.15,592.40 L338.15,592.31 L339.15,592.21 L340.15,592.11 L341.15,592.00 L342.15,591.90 L343.15,591.79 L344.15,591.68 L345.15,591.57 L346.15,591.46 L347.15,591.35 L348.15,591.24 L349.15,591.13 L350.15,591.02 L351.15,590.91 L352.15,590.81 L353.15,590.70 L354.15,590.59 L355.15,590.48 L356.15,590.37 L357.15,590.26 L358.15,590.16 L359.15,590.05 L360.15,589.95 L361.15,589.86 L362.15,589.76 L363.15,589.67 L364.15,589.58 L365.15,589.48 L366.15,589.39 L367.15,589.30 L368.15,589.21 L369.15,589.12 L370.15,589.03 L371.15,588.94 L372.15,588.85 L373.15,588.77 L374.15,588.68 L375.15,588.59 L376.15,588.51 L377.15,588.42 L378.15,588.34 L379.15,588.26 L380.15,588.17 L381.15,588.09 L382.15,588.01 L383.15,587.93 L384.15,587.84 L385.15,587.76 L386.15,587.68 L387.15,587.60 L388.15,587.52 L389.15,587.44 L390.15,587.37 L391.15,587.29 L392.15,587.21 L393.15,587.13 L394.15,587.05 L395.15,586.97 L396.15,586.90 L397.15,586.82 L398.15,586.74 L399.15,586.67 L400.15,586.59 L404.15,586.28 L408.15,585.98 L412.15,585.68 L416.15,585.38 L420.15,585.09 L424.15,584.81 L428.15,584.54 L432.15,584.27 L436.15,584.02 L440.15,583.77 L444.15,583.53 L448.15,583.29 L452.15,583.06 L456.15,582.82 L460.15,582.58 L464.15,582.35 L468.15,582.11 L472.15,581.88 L476.15,581.65 L480.15,581.42 L484.15,581.20 L488.15,580.98 L492.15,580.76 L496.15,580.54 L500.15,580.33 L504.15,580.13 L508.15,579.93 L512.15,579.73 L516.15,579.54 L520.15,579.36 L524.15,579.18 L528.15,579.01 L532.15,578.84 L536.15,578.68 L540.15,578.53 L544.15,578.39 L548.15,578.25 L552.15,578.12 L556.15,578.01 L560.15,577.90 L564.15,577.79 L568.15,577.69 L572.15,577.60 L576.15,577.51 L580.15,577.42 L584.15,577.33 L588.15,577.25 L592.15,577.17 L596.15,577.09 L600.15,577.02 L604.15,576.95 L608.15,576.88 L612.15,576.81 L616.15,576.74 L620.15,576.68 L624.15,576.61 L628.15,576.55 L632.15,576.49 L636.15,576.43 L640.15,576.37 L644.15,576.30 L648.15,576.24 L652.15,576.18 L656.15,576.12 L660.15,576.06 L664.15,576.00 L668.15,575.93 L672.15,575.87 L676.15,575.80 L680.15,575.74 L684.15,575.67 L688.00,575.60" fill="none" stroke="#5E81B5" stroke-width="3.4" stroke-linecap="square" stroke-linejoin="miter" stroke-miterlimit="2"/>
<path d="M112.30,595.10 L309.90,595.10 L313.40,594.90 L313.65,594.89 L313.90,594.88 L314.15,594.88 L314.40,594.87 L314.65,594.86 L314.90,594.85 L315.15,594.85 L315.40,594.84 L315.65,594.83 L315.90,594.82 L316.15,594.82 L316.40,594.81 L316.65,594.80 L316.90,594.79 L317.15,594.79 L317.40,594.78 L317.65,594.77 L317.90,594.76 L318.15,594.76 L318.40,594.75 L318.65,594.74 L318.90,594.73 L319.15,594.73 L319.40,594.72 L319.65,594.71 L319.90,594.70 L320.15,594.70 L320.40,594.69 L320.65,594.68 L320.90,594.67 L321.15,594.67 L321.40,594.66 L321.65,594.65 L321.90,594.64 L322.15,594.64 L322.40,594.63 L322.65,594.62 L322.90,594.62 L323.15,594.61 L323.40,594.60 L323.65,594.59 L323.90,594.59 L324.15,594.58 L324.40,594.57 L324.65,594.57 L324.90,594.56 L325.15,594.55 L325.40,594.55 L325.65,594.54 L325.90,594.53 L326.15,594.53 L326.40,594.52 L326.65,594.51 L326.90,594.50 L327.15,594.50 L327.40,594.49 L327.65,594.48 L327.90,594.48 L328.15,594.47 L328.40,594.46 L328.65,594.45 L328.90,594.45 L329.15,594.44 L329.40,594.43 L329.65,594.42 L329.90,594.42 L330.15,594.41 L331.15,594.38 L332.15,594.35 L333.15,594.31 L334.15,594.28 L335.15,594.24 L336.15,594.20 L337.15,594.15 L338.15,594.10 L339.15,594.05 L340.15,593.99 L341.15,593.93 L342.15,593.86 L343.15,593.80 L344.15,593.73 L345.15,593.66 L346.15,593.59 L347.15,593.52 L348.15,593.45 L349.15,593.38 L350.15,593.32 L351.15,593.26 L352.15,593.20 L353.15,593.15 L354.15,593.10 L355.15,593.05 L356.15,593.00 L357.15,592.95 L358.15,592.90 L359.15,592.85 L360.15,592.80 L361.15,592.75 L362.15,592.70 L363.15,592.65 L364.15,592.60 L365.15,592.55 L366.15,592.50 L367.15,592.44 L368.15,592.39 L369.15,592.34 L370.15,592.29 L371.15,592.24 L372.15,592.19 L373.15,592.13 L374.15,592.08 L375.15,592.03 L376.15,591.98 L377.15,591.93 L378.15,591.87 L379.15,591.82 L380.15,591.77 L381.15,591.72 L382.15,591.66 L383.15,591.61 L384.15,591.56 L385.15,591.50 L386.15,591.45 L387.15,591.40 L388.15,591.34 L389.15,591.29 L390.15,591.24 L391.15,591.18 L392.15,591.13 L393.15,591.07 L394.15,591.02 L395.15,590.97 L396.15,590.91 L397.15,590.86 L398.15,590.80 L399.15,590.75 L400.15,590.69 L404.15,590.46 L408.15,590.22 L412.15,589.98 L416.15,589.73 L420.15,589.48 L424.15,589.23 L428.15,588.99 L432.15,588.77 L436.15,588.56 L440.15,588.37 L444.15,588.20 L448.15,588.03 L452.15,587.86 L456.15,587.69 L460.15,587.53 L464.15,587.38 L468.15,587.22 L472.15,587.07 L476.15,586.92 L480.15,586.78 L484.15,586.63 L488.15,586.49 L492.15,586.36 L496.15,586.22 L500.15,586.09 L504.15,585.96 L508.15,585.84 L512.15,585.71 L516.15,585.59 L520.15,585.47 L524.15,585.36 L528.15,585.24 L532.15,585.13 L536.15,585.02 L540.15,584.91 L544.15,584.80 L548.15,584.70 L552.15,584.60 L556.15,584.50 L560.15,584.40 L564.15,584.30 L568.15,584.20 L572.15,584.11 L576.15,584.02 L580.15,583.93 L584.15,583.85 L588.15,583.76 L592.15,583.68 L596.15,583.60 L600.15,583.52 L604.15,583.44 L608.15,583.36 L612.15,583.29 L616.15,583.21 L620.15,583.14 L624.15,583.07 L628.15,582.99 L632.15,582.92 L636.15,582.85 L640.15,582.78 L644.15,582.71 L648.15,582.63 L652.15,582.56 L656.15,582.49 L660.15,582.42 L664.15,582.35 L668.15,582.27 L672.15,582.20 L676.15,582.13 L680.15,582.05 L684.15,581.97 L688.00,581.90" fill="none" stroke="#E19C24" stroke-width="3.4" stroke-linecap="square" stroke-linejoin="miter" stroke-miterlimit="2"/>
<path d="M112.30,594.90 L310.00,594.90 L310.25,594.07 L310.50,593.26 L310.75,592.44 L311.00,591.59 L311.25,590.69 L311.50,589.67 L311.75,588.51 L312.00,587.37 L312.25,586.37 L312.50,585.57 L312.75,584.85 L313.00,584.22 L313.25,583.69 L313.50,583.26 L313.75,582.89 L314.00,582.57 L314.25,582.27 L314.50,582.00 L314.75,581.75 L315.00,581.52 L315.25,581.31 L315.50,581.10 L315.75,580.90 L316.00,580.70 L316.25,580.49 L316.50,580.29 L316.75,580.08 L317.00,579.87 L317.25,579.67 L317.50,579.47 L317.75,579.27 L318.00,579.08 L318.25,578.89 L318.50,578.71 L318.75,578.53 L319.00,578.36 L319.25,578.20 L319.50,578.04 L319.75,577.88 L320.00,577.73 L320.25,577.58 L320.50,577.43 L320.75,577.29 L321.00,577.14 L321.25,577.00 L321.50,576.86 L321.75,576.72 L322.00,576.58 L322.25,576.43 L322.50,576.29 L322.75,576.15 L323.00,576.00 L323.25,575.85 L323.50,575.71 L323.75,575.56 L324.00,575.42 L324.25,575.27 L324.50,575.12 L324.75,574.98 L325.00,574.83 L325.25,574.69 L325.50,574.55 L325.75,574.40 L326.00,574.26 L326.25,574.11 L326.50,573.97 L326.75,573.82 L327.00,573.67 L327.25,573.53 L327.50,573.38 L327.75,573.24 L328.00,573.09 L328.25,572.94 L328.50,572.79 L328.75,572.65 L329.00,572.50 L329.25,572.35 L329.50,572.20 L329.75,572.06 L330.00,571.91 L330.25,571.76 L330.50,571.61 L330.75,571.47 L331.00,571.32 L331.25,571.18 L331.50,571.03 L331.75,570.89 L332.00,570.74 L335.00,569.05 L338.00,567.39 L341.00,565.71 L344.00,563.99 L347.00,562.28 L350.00,560.58 L353.00,558.88 L356.00,557.18 L359.00,555.59 L362.00,554.01 L365.00,552.42 L368.00,550.83 L371.00,549.24 L374.00,547.64 L377.00,546.04 L380.00,544.43 L383.00,542.82 L386.00,541.20 L389.00,539.58 L392.00,537.94 L395.00,536.31 L398.00,534.66 L401.00,533.00 L404.00,531.34 L407.00,529.67 L410.00,527.99 L413.00,526.30 L416.00,524.60 L419.00,522.89 L422.00,521.18 L425.00,519.45 L428.00,517.71 L431.00,515.96 L434.00,514.21 L437.00,512.44 L440.00,510.66 L443.00,508.87 L446.00,507.07 L449.00,505.26 L452.00,503.43 L455.00,501.60 L458.00,499.75 L461.00,497.90 L464.00,496.03 L467.00,494.15 L470.00,492.25 L473.00,490.35 L476.00,488.43 L479.00,486.50 L482.00,484.56 L485.00,482.60 L488.00,480.63 L491.00,478.65 L494.00,476.66 L497.00,474.65 L500.00,472.64 L503.00,470.60 L506.00,468.56 L509.00,466.50 L512.00,464.42 L515.00,462.34 L518.00,460.24 L521.00,458.12 L524.00,456.00 L527.00,453.86 L530.00,451.70 L533.00,449.53 L536.00,447.35 L539.00,445.15 L542.00,442.94 L545.00,440.71 L548.00,438.47 L551.00,436.21 L554.00,433.94 L557.00,431.65 L560.00,429.35 L563.00,427.04 L566.00,424.71 L569.00,422.36 L572.00,420.00 L575.00,417.62 L578.00,415.23 L581.00,412.83 L584.00,410.40 L587.00,407.96 L590.00,405.51 L593.00,403.04 L596.00,400.56 L599.00,398.05 L602.00,395.54 L605.00,393.00 L608.00,390.45 L611.00,387.89 L614.00,385.31 L617.00,382.71 L620.00,380.09 L623.00,377.46 L626.00,374.81 L629.00,372.15 L632.00,369.47 L635.00,366.77 L638.00,364.05 L641.00,361.32 L644.00,358.57 L647.00,355.80 L650.00,353.02 L653.00,350.22 L656.00,347.40 L659.00,344.57 L662.00,341.71 L665.00,338.84 L668.00,335.95 L671.00,333.05 L674.00,330.12 L677.00,327.18 L680.00,324.22 L683.00,321.24 L686.00,318.25 L687.60,316.64" fill="none" stroke="#FF0000" stroke-width="3.7" stroke-linecap="square" stroke-linejoin="round"/>
<g fill="#000">
<rect x="99" y="0" width="2.3" height="301.84"/>
<rect x="698.9" y="0" width="2.1" height="301.84"/>
<rect x="99" y="0" width="602" height="1.9"/>
<rect x="99" y="299.56" width="602" height="2.28"/>
<rect x="99" y="600.34" width="602" height="1.6"/>
</g>
<rect x="99" y="301.84" width="2.3" height="300.1" fill="#5E81B5"/>
<rect x="699.2" y="301.84" width="1.3" height="300.1" fill="#FF0000"/>
<g stroke="#000" stroke-width="1.7"><line x1="112.30" y1="1.9" x2="112.30" y2="7.50"/><line x1="112.30" y1="293.96" x2="112.30" y2="307.44"/><line x1="112.30" y1="594.74" x2="112.30" y2="600.34"/><line x1="128.74" y1="1.9" x2="128.74" y2="4.90"/><line x1="128.74" y1="296.56" x2="128.74" y2="304.84"/><line x1="128.74" y1="596.84" x2="128.74" y2="600.34"/><line x1="145.19" y1="1.9" x2="145.19" y2="4.90"/><line x1="145.19" y1="296.56" x2="145.19" y2="304.84"/><line x1="145.19" y1="596.84" x2="145.19" y2="600.34"/><line x1="161.63" y1="1.9" x2="161.63" y2="4.90"/><line x1="161.63" y1="296.56" x2="161.63" y2="304.84"/><line x1="161.63" y1="596.84" x2="161.63" y2="600.34"/><line x1="178.08" y1="1.9" x2="178.08" y2="4.90"/><line x1="178.08" y1="296.56" x2="178.08" y2="304.84"/><line x1="178.08" y1="596.84" x2="178.08" y2="600.34"/><line x1="194.52" y1="1.9" x2="194.52" y2="7.50"/><line x1="194.52" y1="293.96" x2="194.52" y2="307.44"/><line x1="194.52" y1="594.74" x2="194.52" y2="600.34"/><line x1="210.96" y1="1.9" x2="210.96" y2="4.90"/><line x1="210.96" y1="296.56" x2="210.96" y2="304.84"/><line x1="210.96" y1="596.84" x2="210.96" y2="600.34"/><line x1="227.41" y1="1.9" x2="227.41" y2="4.90"/><line x1="227.41" y1="296.56" x2="227.41" y2="304.84"/><line x1="227.41" y1="596.84" x2="227.41" y2="600.34"/><line x1="243.85" y1="1.9" x2="243.85" y2="4.90"/><line x1="243.85" y1="296.56" x2="243.85" y2="304.84"/><line x1="243.85" y1="596.84" x2="243.85" y2="600.34"/><line x1="260.30" y1="1.9" x2="260.30" y2="4.90"/><line x1="260.30" y1="296.56" x2="260.30" y2="304.84"/><line x1="260.30" y1="596.84" x2="260.30" y2="600.34"/><line x1="276.74" y1="1.9" x2="276.74" y2="7.50"/><line x1="276.74" y1="293.96" x2="276.74" y2="307.44"/><line x1="276.74" y1="594.74" x2="276.74" y2="600.34"/><line x1="293.18" y1="1.9" x2="293.18" y2="4.90"/><line x1="293.18" y1="296.56" x2="293.18" y2="304.84"/><line x1="293.18" y1="596.84" x2="293.18" y2="600.34"/><line x1="309.63" y1="1.9" x2="309.63" y2="4.90"/><line x1="309.63" y1="296.56" x2="309.63" y2="304.84"/><line x1="309.63" y1="596.84" x2="309.63" y2="600.34"/><line x1="326.07" y1="1.9" x2="326.07" y2="4.90"/><line x1="326.07" y1="296.56" x2="326.07" y2="304.84"/><line x1="326.07" y1="596.84" x2="326.07" y2="600.34"/><line x1="342.52" y1="1.9" x2="342.52" y2="4.90"/><line x1="342.52" y1="296.56" x2="342.52" y2="304.84"/><line x1="342.52" y1="596.84" x2="342.52" y2="600.34"/><line x1="358.96" y1="1.9" x2="358.96" y2="7.50"/><line x1="358.96" y1="293.96" x2="358.96" y2="307.44"/><line x1="358.96" y1="594.74" x2="358.96" y2="600.34"/><line x1="375.40" y1="1.9" x2="375.40" y2="4.90"/><line x1="375.40" y1="296.56" x2="375.40" y2="304.84"/><line x1="375.40" y1="596.84" x2="375.40" y2="600.34"/><line x1="391.85" y1="1.9" x2="391.85" y2="4.90"/><line x1="391.85" y1="296.56" x2="391.85" y2="304.84"/><line x1="391.85" y1="596.84" x2="391.85" y2="600.34"/><line x1="408.29" y1="1.9" x2="408.29" y2="4.90"/><line x1="408.29" y1="296.56" x2="408.29" y2="304.84"/><line x1="408.29" y1="596.84" x2="408.29" y2="600.34"/><line x1="424.74" y1="1.9" x2="424.74" y2="4.90"/><line x1="424.74" y1="296.56" x2="424.74" y2="304.84"/><line x1="424.74" y1="596.84" x2="424.74" y2="600.34"/><line x1="441.18" y1="1.9" x2="441.18" y2="7.50"/><line x1="441.18" y1="293.96" x2="441.18" y2="307.44"/><line x1="441.18" y1="594.74" x2="441.18" y2="600.34"/><line x1="457.62" y1="1.9" x2="457.62" y2="4.90"/><line x1="457.62" y1="296.56" x2="457.62" y2="304.84"/><line x1="457.62" y1="596.84" x2="457.62" y2="600.34"/><line x1="474.07" y1="1.9" x2="474.07" y2="4.90"/><line x1="474.07" y1="296.56" x2="474.07" y2="304.84"/><line x1="474.07" y1="596.84" x2="474.07" y2="600.34"/><line x1="490.51" y1="1.9" x2="490.51" y2="4.90"/><line x1="490.51" y1="296.56" x2="490.51" y2="304.84"/><line x1="490.51" y1="596.84" x2="490.51" y2="600.34"/><line x1="506.96" y1="1.9" x2="506.96" y2="4.90"/><line x1="506.96" y1="296.56" x2="506.96" y2="304.84"/><line x1="506.96" y1="596.84" x2="506.96" y2="600.34"/><line x1="523.40" y1="1.9" x2="523.40" y2="7.50"/><line x1="523.40" y1="293.96" x2="523.40" y2="307.44"/><line x1="523.40" y1="594.74" x2="523.40" y2="600.34"/><line x1="539.84" y1="1.9" x2="539.84" y2="4.90"/><line x1="539.84" y1="296.56" x2="539.84" y2="304.84"/><line x1="539.84" y1="596.84" x2="539.84" y2="600.34"/><line x1="556.29" y1="1.9" x2="556.29" y2="4.90"/><line x1="556.29" y1="296.56" x2="556.29" y2="304.84"/><line x1="556.29" y1="596.84" x2="556.29" y2="600.34"/><line x1="572.73" y1="1.9" x2="572.73" y2="4.90"/><line x1="572.73" y1="296.56" x2="572.73" y2="304.84"/><line x1="572.73" y1="596.84" x2="572.73" y2="600.34"/><line x1="589.18" y1="1.9" x2="589.18" y2="4.90"/><line x1="589.18" y1="296.56" x2="589.18" y2="304.84"/><line x1="589.18" y1="596.84" x2="589.18" y2="600.34"/><line x1="605.62" y1="1.9" x2="605.62" y2="7.50"/><line x1="605.62" y1="293.96" x2="605.62" y2="307.44"/><line x1="605.62" y1="594.74" x2="605.62" y2="600.34"/><line x1="622.06" y1="1.9" x2="622.06" y2="4.90"/><line x1="622.06" y1="296.56" x2="622.06" y2="304.84"/><line x1="622.06" y1="596.84" x2="622.06" y2="600.34"/><line x1="638.51" y1="1.9" x2="638.51" y2="4.90"/><line x1="638.51" y1="296.56" x2="638.51" y2="304.84"/><line x1="638.51" y1="596.84" x2="638.51" y2="600.34"/><line x1="654.95" y1="1.9" x2="654.95" y2="4.90"/><line x1="654.95" y1="296.56" x2="654.95" y2="304.84"/><line x1="654.95" y1="596.84" x2="654.95" y2="600.34"/><line x1="671.40" y1="1.9" x2="671.40" y2="4.90"/><line x1="671.40" y1="296.56" x2="671.40" y2="304.84"/><line x1="671.40" y1="596.84" x2="671.40" y2="600.34"/><line x1="687.84" y1="1.9" x2="687.84" y2="7.50"/><line x1="687.84" y1="293.96" x2="687.84" y2="307.44"/><line x1="687.84" y1="594.74" x2="687.84" y2="600.34"/><line x1="101.3" y1="15.96" x2="106.90" y2="15.96"/><line x1="698.9" y1="15.96" x2="693.30" y2="15.96"/><line x1="101.3" y1="30.29" x2="104.00" y2="30.29"/><line x1="698.9" y1="30.29" x2="696.20" y2="30.29"/><line x1="101.3" y1="44.63" x2="104.00" y2="44.63"/><line x1="698.9" y1="44.63" x2="696.20" y2="44.63"/><line x1="101.3" y1="58.96" x2="104.00" y2="58.96"/><line x1="698.9" y1="58.96" x2="696.20" y2="58.96"/><line x1="101.3" y1="73.29" x2="104.00" y2="73.29"/><line x1="698.9" y1="73.29" x2="696.20" y2="73.29"/><line x1="101.3" y1="87.62" x2="106.90" y2="87.62"/><line x1="698.9" y1="87.62" x2="693.30" y2="87.62"/><line x1="101.3" y1="101.96" x2="104.00" y2="101.96"/><line x1="698.9" y1="101.96" x2="696.20" y2="101.96"/><line x1="101.3" y1="116.29" x2="104.00" y2="116.29"/><line x1="698.9" y1="116.29" x2="696.20" y2="116.29"/><line x1="101.3" y1="130.62" x2="104.00" y2="130.62"/><line x1="698.9" y1="130.62" x2="696.20" y2="130.62"/><line x1="101.3" y1="144.96" x2="104.00" y2="144.96"/><line x1="698.9" y1="144.96" x2="696.20" y2="144.96"/><line x1="101.3" y1="159.29" x2="106.90" y2="159.29"/><line x1="698.9" y1="159.29" x2="693.30" y2="159.29"/><line x1="101.3" y1="173.62" x2="104.00" y2="173.62"/><line x1="698.9" y1="173.62" x2="696.20" y2="173.62"/><line x1="101.3" y1="187.96" x2="104.00" y2="187.96"/><line x1="698.9" y1="187.96" x2="696.20" y2="187.96"/><line x1="101.3" y1="202.29" x2="104.00" y2="202.29"/><line x1="698.9" y1="202.29" x2="696.20" y2="202.29"/><line x1="101.3" y1="216.62" x2="104.00" y2="216.62"/><line x1="698.9" y1="216.62" x2="696.20" y2="216.62"/><line x1="101.3" y1="230.96" x2="106.90" y2="230.96"/><line x1="698.9" y1="230.96" x2="693.30" y2="230.96"/><line x1="101.3" y1="245.29" x2="104.00" y2="245.29"/><line x1="698.9" y1="245.29" x2="696.20" y2="245.29"/><line x1="101.3" y1="259.62" x2="104.00" y2="259.62"/><line x1="698.9" y1="259.62" x2="696.20" y2="259.62"/><line x1="101.3" y1="273.95" x2="104.00" y2="273.95"/><line x1="698.9" y1="273.95" x2="696.20" y2="273.95"/><line x1="101.3" y1="288.29" x2="104.00" y2="288.29"/><line x1="698.9" y1="288.29" x2="696.20" y2="288.29"/></g>
<g stroke="#5E81B5" stroke-width="1.6"><line x1="101.3" y1="595.10" x2="106.90" y2="595.10"/><line x1="101.3" y1="581.15" x2="104.00" y2="581.15"/><line x1="101.3" y1="567.20" x2="104.00" y2="567.20"/><line x1="101.3" y1="553.25" x2="104.00" y2="553.25"/><line x1="101.3" y1="539.29" x2="106.90" y2="539.29"/><line x1="101.3" y1="525.34" x2="104.00" y2="525.34"/><line x1="101.3" y1="511.39" x2="104.00" y2="511.39"/><line x1="101.3" y1="497.44" x2="104.00" y2="497.44"/><line x1="101.3" y1="483.49" x2="106.90" y2="483.49"/><line x1="101.3" y1="469.54" x2="104.00" y2="469.54"/><line x1="101.3" y1="455.59" x2="104.00" y2="455.59"/><line x1="101.3" y1="441.63" x2="104.00" y2="441.63"/><line x1="101.3" y1="427.68" x2="106.90" y2="427.68"/><line x1="101.3" y1="413.73" x2="104.00" y2="413.73"/><line x1="101.3" y1="399.78" x2="104.00" y2="399.78"/><line x1="101.3" y1="385.83" x2="104.00" y2="385.83"/><line x1="101.3" y1="371.88" x2="106.90" y2="371.88"/><line x1="101.3" y1="357.92" x2="104.00" y2="357.92"/><line x1="101.3" y1="343.97" x2="104.00" y2="343.97"/><line x1="101.3" y1="330.02" x2="104.00" y2="330.02"/><line x1="101.3" y1="316.07" x2="106.90" y2="316.07"/><line x1="101.3" y1="302.12" x2="104.00" y2="302.12"/></g>
<g stroke="#FF0000" stroke-width="1.2"><line x1="699.5" y1="595.30" x2="693.20" y2="595.30"/><line x1="699.5" y1="586.05" x2="696.00" y2="586.05"/><line x1="699.5" y1="576.81" x2="696.00" y2="576.81"/><line x1="699.5" y1="567.56" x2="696.00" y2="567.56"/><line x1="699.5" y1="558.31" x2="696.00" y2="558.31"/><line x1="699.5" y1="549.06" x2="693.20" y2="549.06"/><line x1="699.5" y1="539.82" x2="696.00" y2="539.82"/><line x1="699.5" y1="530.57" x2="696.00" y2="530.57"/><line x1="699.5" y1="521.32" x2="696.00" y2="521.32"/><line x1="699.5" y1="512.08" x2="696.00" y2="512.08"/><line x1="699.5" y1="502.83" x2="693.20" y2="502.83"/><line x1="699.5" y1="493.58" x2="696.00" y2="493.58"/><line x1="699.5" y1="484.34" x2="696.00" y2="484.34"/><line x1="699.5" y1="475.09" x2="696.00" y2="475.09"/><line x1="699.5" y1="465.84" x2="696.00" y2="465.84"/><line x1="699.5" y1="456.59" x2="693.20" y2="456.59"/><line x1="699.5" y1="447.35" x2="696.00" y2="447.35"/><line x1="699.5" y1="438.10" x2="696.00" y2="438.10"/><line x1="699.5" y1="428.85" x2="696.00" y2="428.85"/><line x1="699.5" y1="419.61" x2="696.00" y2="419.61"/><line x1="699.5" y1="410.36" x2="693.20" y2="410.36"/><line x1="699.5" y1="401.11" x2="696.00" y2="401.11"/><line x1="699.5" y1="391.87" x2="696.00" y2="391.87"/><line x1="699.5" y1="382.62" x2="696.00" y2="382.62"/><line x1="699.5" y1="373.37" x2="696.00" y2="373.37"/><line x1="699.5" y1="364.12" x2="693.20" y2="364.12"/><line x1="699.5" y1="354.88" x2="696.00" y2="354.88"/><line x1="699.5" y1="345.63" x2="696.00" y2="345.63"/><line x1="699.5" y1="336.38" x2="696.00" y2="336.38"/><line x1="699.5" y1="327.14" x2="696.00" y2="327.14"/><line x1="699.5" y1="317.89" x2="693.20" y2="317.89"/><line x1="699.5" y1="308.64" x2="696.00" y2="308.64"/></g>
<g font-family="Liberation Sans, sans-serif" font-size="26" fill="#000" text-anchor="end">
<text x="94.6" y="25.76">0</text>
<text x="94.6" y="97.42">−50</text>
<text x="94.6" y="169.09">−100</text>
<text x="94.6" y="240.76">−150</text>
</g>
<g font-family="Liberation Sans, sans-serif" font-size="26" fill="#5E81B5" text-anchor="end">
<text x="94.3" y="605.00">0.0</text>
<text x="94.3" y="549.19">0.2</text>
<text x="94.3" y="493.39">0.4</text>
<text x="94.3" y="437.58">0.6</text>
<text x="94.3" y="381.78">0.8</text>
<text x="94.3" y="325.97">1.0</text>
</g>
<g font-family="Liberation Sans, sans-serif" font-size="26" fill="#FF0000" text-anchor="start">
<text x="706.0" y="604.90">0</text>
<text x="706.0" y="558.66">50</text>
<text x="706.0" y="512.43">100</text>
<text x="706.0" y="466.19">150</text>
<text x="706.0" y="419.96">200</text>
<text x="706.0" y="373.73">250</text>
<text x="706.0" y="327.49">300</text>
</g>
<g font-family="Liberation Sans, sans-serif" font-size="26" fill="#000" text-anchor="middle">
<text x="112.30" y="632.9">0</text>
<text x="194.52" y="632.9">1</text>
<text x="276.74" y="632.9">2</text>
<text x="358.96" y="632.9">3</text>
<text x="441.18" y="632.9">4</text>
<text x="523.40" y="632.9">5</text>
<text x="605.62" y="632.9">6</text>
<text x="687.84" y="632.9">7</text>
</g>
<g font-family="Liberation Serif, serif" font-size="31.5" fill="#000">
<text x="116.9" y="281.5">(a)</text>
<text x="115.9" y="579.8">(b)</text>
<text x="213.0" y="217.2">Fröhlich polaron</text>
<text x="213.6" y="261.1">rotating polaron at</text>
<text x="454.6" y="261.1" font-style="italic">l</text>
<text x="463.4" y="267.8" font-size="22.3">0</text>
<text transform="translate(485,265.4) scale(1.1,0.95)">=</text>
<text x="513.4" y="261.1">0</text>
<text transform="translate(258.2,159.5) scale(1.2,1)" font-style="italic">α</text>
<text x="277.5" y="164.2" font-style="italic" font-size="22.3">C</text>
<text transform="translate(382.3,653) scale(1.14,1)" font-style="italic">α</text>
<text x="401.4" y="657.7" font-style="italic" font-size="22.3">F</text>
<text x="214" y="365.8" font-style="italic">r</text>
<text x="225.8" y="355.7" font-size="22.3">2</text>
<text x="225.8" y="376" font-size="22.3">0</text>
<text x="581" y="536.7" font-style="italic">r</text>
<text x="593" y="524.3" font-size="22.3">2</text>
<text x="593" y="546" font-size="22.3" textLength="31.2" lengthAdjust="spacingAndGlyphs"><tspan font-style="italic">l</tspan>≠0</text>
</g>
<text transform="translate(549.4,414.3) scale(1.13,0.975)" font-family="Liberation Serif, serif" font-size="31.5" font-style="italic" fill="#FF0000">β</text>
<line x1="163.0" y1="209.6" x2="193.0" y2="209.6" stroke="#E19C24" stroke-width="3.2" stroke-dasharray="8.4 2.4"/>
<line x1="163.0" y1="253.7" x2="196.5" y2="253.7" stroke="#5E81B5" stroke-width="3"/>
<line x1="161.7" y1="358.9" x2="201.7" y2="358.9" stroke="#5E81B5" stroke-width="3"/>
<g transform="translate(15.2,175.6) rotate(-90)" font-family="Liberation Serif, serif" font-size="31.5" fill="#000"><text transform="scale(1.36,1)" font-style="italic">ε</text><text x="16.6" y="3.8" font-size="22.3">0</text></g>
<g transform="translate(26.6,457.8) rotate(-90)" font-family="Liberation Serif, serif" font-size="31.5" fill="#5E81B5"><text x="0" y="0" font-style="italic">r</text><text x="12.5" y="-11.5" font-size="22">2</text><text x="12.5" y="9.8" font-size="22" font-style="italic">l</text></g>
</svg>
</body></html>
